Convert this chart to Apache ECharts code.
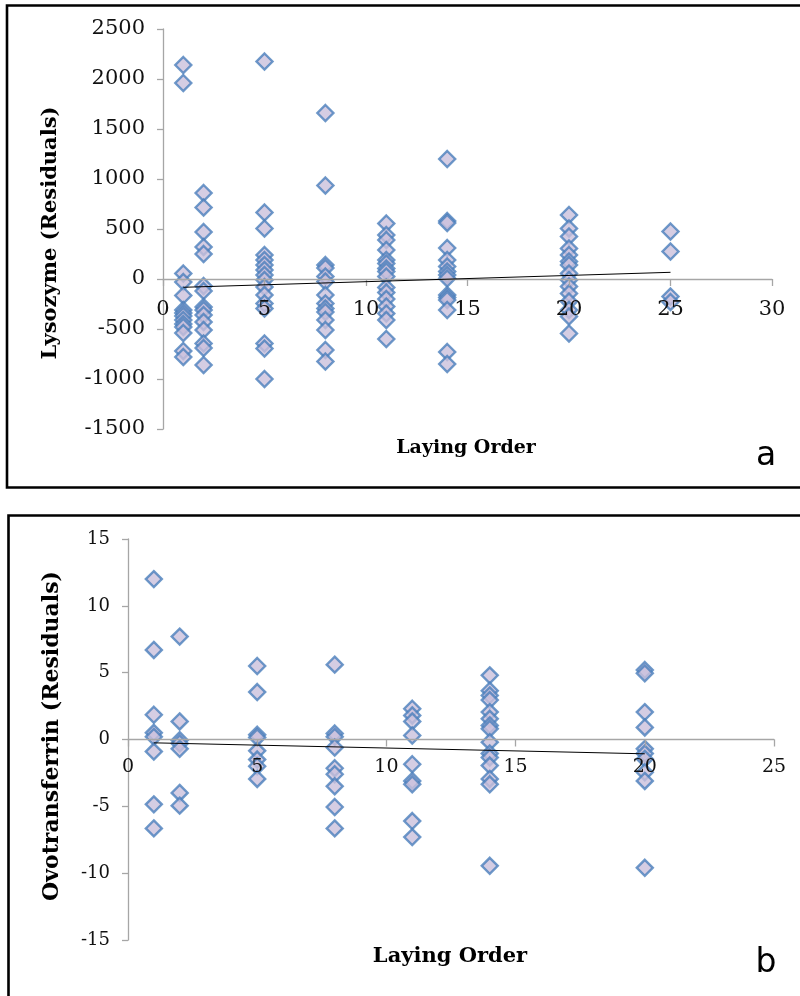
<!DOCTYPE html>
<html>
<head>
<meta charset="utf-8">
<script src="https://cdn.jsdelivr.net/npm/echarts@6/dist/echarts.min.js"></script>
<style>
  html, body { margin: 0; padding: 0; background: #fff; }
  #chart { width: 800px; height: 996px; }
</style>
</head>
<body>
<div id="chart"></div>
<script>
// Panel a: lysozyme residuals against laying order
const lysoOrders = [1, 2, 5, 8, 11, 14, 20, 25];
const lyso1  = [2140, 1960, 55, -30, -165, -310, -340, -370, -410, -450, -480, -540, -720, -780];
const lyso2  = [860, 715, 470, 320, 250, -70, -120, -280, -310, -360, -430, -510, -645, -690, -860];
const lyso5  = [2175, 665, 505, 240, 190, 140, 90, 40, -10, -80, -160, -245, -295, -645, -695, -1000];
const lyso8  = [1660, 935, 140, 110, 25, -25, -160, -245, -295, -330, -410, -510, -710, -825];
const lyso11 = [555, 440, 390, 290, 190, 155, 105, 75, 25, -85, -135, -200, -275, -345, -410, -600];
const lyso14 = [1200, 580, 560, 310, 190, 125, 75, 40, 5, -160, -185, -210, -310, -730, -850];
const lyso20 = [640, 505, 425, 305, 240, 175, 140, 55, -10, -75, -145, -225, -310, -375, -545];
const lyso25 = [475, 275, -175, -230];
const lysoTrendX = [1, 25];
const lysoTrendY = [-83, 67];

// Panel b: ovotransferrin residuals against laying order
const ovoOrders = [1, 2, 5, 8, 11, 14, 20];
const ovo1  = [12.0, 6.7, 1.85, 0.5, 0.2, -0.9, -4.85, -6.65];
const ovo2  = [7.7, 1.35, -0.05, -0.3, -0.7, -4.0, -4.95];
const ovo5  = [5.5, 3.55, 0.35, 0.15, -0.85, -1.5, -2.0, -2.95];
const ovo8  = [5.6, 0.45, 0.2, -0.6, -2.15, -2.6, -3.5, -5.05, -6.65];
const ovo11 = [2.3, 1.8, 1.35, 0.3, -1.85, -3.1, -3.35, -6.1, -7.3];
const ovo14 = [4.8, 3.65, 3.3, 2.95, 2.05, 1.55, 1.05, 0.8, -0.2, -1.05, -1.35, -1.95, -2.95, -3.35, -9.45];
const ovo20 = [5.2, 4.95, 2.05, 0.9, -0.7, -1.05, -1.45, -2.45, -3.1, -9.6];
const ovoTrendX = [1, 20];
const ovoTrendY = [-0.25, -1.07];

const lysoTicks = { min: -1500, max: 2500, interval: 500 };
const ovoTicks = { min: -15, max: 15, interval: 5 };

function toPairs(orders, groups) {
  const out = [];
  orders.forEach((x, i) => groups[i].forEach(v => out.push([x, v])));
  return out;
}
function zipXY(xs, ys) { return xs.map((x, i) => [x, ys[i]]); }

const lysoPoints = toPairs(lysoOrders, [lyso1, lyso2, lyso5, lyso8, lyso11, lyso14, lyso20, lyso25]);
const ovoPoints = toPairs(ovoOrders, [ovo1, ovo2, ovo5, ovo8, ovo11, ovo14, ovo20]);

const axisGray = '#a6a6a6';
const serif = 'DejaVu Serif';
const plain = v => String(v);

// grid boxes; the x axis is shifted up from the grid bottom to the zero line
const lysoGrid = { left: 163, top: 29, width: 609, height: 400 };
const ovoGrid = { left: 128, top: 539, width: 646, height: 401 };
const zeroOffset = (g, t) => -g.height * (0 - t.min) / (t.max - t.min);

function xAxisCfg(gridIndex, max, fontSize, offset, margin) {
  return {
    type: 'value', gridIndex, min: 0, max, interval: 5, z: 5,
    position: 'bottom', offset,
    axisLine: { show: true, onZero: false, lineStyle: { color: axisGray, width: 1.3 } },
    axisTick: { show: true, length: 7, lineStyle: { color: axisGray, width: 1.3 } },
    axisLabel: { color: '#111', fontFamily: serif, fontSize, margin, formatter: plain },
    splitLine: { show: false }
  };
}
function yAxisCfg(gridIndex, t, fontSize, margin) {
  return {
    type: 'value', gridIndex, min: t.min, max: t.max, interval: t.interval,
    axisLine: { show: true, onZero: false, lineStyle: { color: axisGray, width: 1.3 } },
    axisTick: { show: true, length: 6, lineStyle: { color: axisGray, width: 1.3 } },
    axisLabel: { color: '#111', fontFamily: serif, fontSize, margin, formatter: plain },
    splitLine: { show: false }
  };
}

const markerStyle = { color: '#cbc0dc', borderColor: '#4a7ebb', borderWidth: 2.4 };

const option = {
  animation: false,
  backgroundColor: '#fff',
  grid: [lysoGrid, ovoGrid],
  xAxis: [
    xAxisCfg(0, 30, 21, zeroOffset(lysoGrid, lysoTicks), 20),
    xAxisCfg(1, 25, 19, zeroOffset(ovoGrid, ovoTicks), 18)
  ],
  yAxis: [yAxisCfg(0, lysoTicks, 21, 18), yAxisCfg(1, ovoTicks, 18, 18)],
  series: [
    { type: 'scatter', xAxisIndex: 0, yAxisIndex: 0, data: lysoPoints,
      symbol: 'diamond', symbolSize: 16, itemStyle: markerStyle, z: 2 },
    { type: 'line', xAxisIndex: 0, yAxisIndex: 0, data: zipXY(lysoTrendX, lysoTrendY),
      symbol: 'none', lineStyle: { color: '#000', width: 1 }, z: 6 },
    { type: 'scatter', xAxisIndex: 1, yAxisIndex: 1, data: ovoPoints,
      symbol: 'diamond', symbolSize: 16, itemStyle: markerStyle, z: 2 },
    { type: 'line', xAxisIndex: 1, yAxisIndex: 1, data: zipXY(ovoTrendX, ovoTrendY),
      symbol: 'none', lineStyle: { color: '#000', width: 1 }, z: 6 }
  ],
  graphic: [
    { type: 'rect', shape: { x: 7, y: 5.5, width: 830, height: 482 },
      style: { fill: 'none', stroke: '#000', lineWidth: 2.6 }, z: 10 },
    { type: 'rect', shape: { x: 8.5, y: 515.5, width: 830, height: 520 },
      style: { fill: 'none', stroke: '#000', lineWidth: 2.6 }, z: 10 },
    { type: 'text', x: 51, y: 233, rotation: Math.PI / 2,
      style: { text: 'Lysozyme (Residuals)', fontFamily: serif, fontWeight: 'bold', fontSize: 21,
               fill: '#000', align: 'center', verticalAlign: 'middle' } },
    { type: 'text', x: 466, y: 448,
      style: { text: 'Laying Order', fontFamily: serif, fontWeight: 'bold', fontSize: 19,
               fill: '#000', align: 'center', verticalAlign: 'middle' } },
    { type: 'text', x: 766, y: 456,
      style: { text: 'a', fontFamily: 'DejaVu Sans', fontSize: 33,
               fill: '#000', align: 'center', verticalAlign: 'middle' } },
    { type: 'text', x: 52, y: 736, rotation: Math.PI / 2,
      style: { text: 'Ovotransferrin (Residuals)', fontFamily: serif, fontWeight: 'bold', fontSize: 22,
               fill: '#000', align: 'center', verticalAlign: 'middle' } },
    { type: 'text', x: 450, y: 957,
      style: { text: 'Laying Order', fontFamily: serif, fontWeight: 'bold', fontSize: 21,
               fill: '#000', align: 'center', verticalAlign: 'middle' } },
    { type: 'text', x: 766, y: 963,
      style: { text: 'b', fontFamily: 'DejaVu Sans', fontSize: 33,
               fill: '#000', align: 'center', verticalAlign: 'middle' } }
  ]
};

echarts.init(document.getElementById('chart'), null, { renderer: 'canvas' }).setOption(option);
</script>
</body>
</html>
